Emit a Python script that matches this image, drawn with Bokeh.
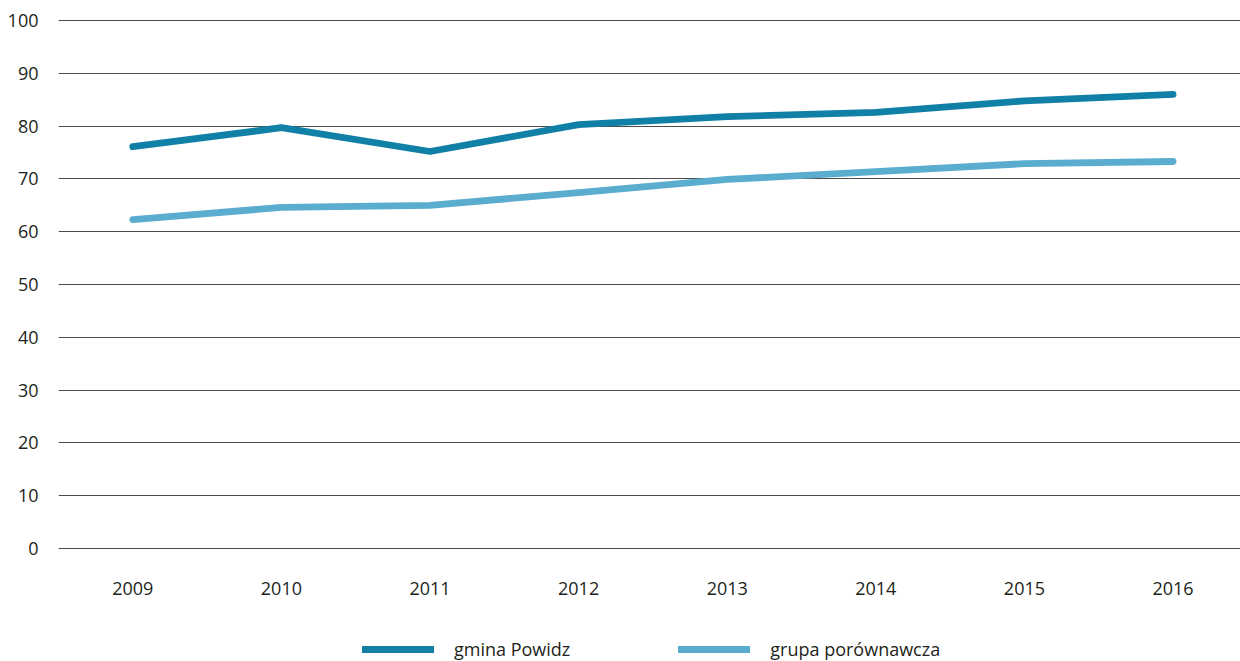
from bokeh.plotting import figure
from bokeh.models import Range1d, FixedTicker, Legend, LegendItem
from bokeh.embed import file_html
from bokeh.resources import INLINE

years = ["2009", "2010", "2011", "2012", "2013", "2014", "2015", "2016"]
gmina_powidz = [76.1, 79.7, 75.2, 80.3, 81.8, 82.6, 84.8, 86.0]
grupa_porownawcza = [62.3, 64.6, 65.0, 67.4, 69.9, 71.4, 72.9, 73.3]
y_ticks = [0, 10, 20, 30, 40, 50, 60, 70, 80, 90, 100]

x = list(range(len(years)))

# frame spans the whole lower area; the legend sits inside it below the axis labels
p = figure(width=1240, height=661, output_backend="svg", toolbar_location=None,
           x_range=Range1d(-0.5, 7.454), y_range=Range1d(-21.4, 100.2),
           min_border_left=58, min_border_right=0, min_border_top=19,
           min_border_bottom=0)
p.outline_line_color = None
p.background_fill_color = "white"
p.border_fill_color = "white"

font = "Open Sans"
for ax in (p.xaxis[0], p.yaxis[0]):
    ax.axis_line_color = None
    ax.major_tick_line_color = None
    ax.minor_tick_line_color = None
    ax.major_label_text_font = font
    ax.major_label_text_font_size = "18px"
    ax.major_label_text_color = "#231f20"

p.xaxis.ticker = FixedTicker(ticks=x)
p.xaxis.major_label_overrides = {i: y for i, y in enumerate(years)}
p.xaxis.fixed_location = -0.2
p.xaxis.major_label_standoff = 26
p.yaxis.ticker = FixedTicker(ticks=y_ticks)
p.yaxis.major_label_standoff = 14

p.xgrid.grid_line_color = None
p.ygrid.grid_line_color = "#4d4d4d"
p.ygrid.grid_line_width = 1.1
p.ygrid.ticker = FixedTicker(ticks=y_ticks)

r1 = p.line(x, gmina_powidz, line_color="#1180a6", line_width=6.8, line_cap="round", line_join="round")
r2 = p.line(x, grupa_porownawcza, line_color="#5badcf", line_width=6.8, line_cap="round", line_join="round")

legend = Legend(items=[LegendItem(label="gmina Powidz", renderers=[r1]),
                       LegendItem(label="grupa porównawcza", renderers=[r2])],
                orientation="horizontal", location=(304, 0),
                glyph_width=72, glyph_height=20, label_height=20, label_standoff=20, spacing=108,
                label_text_font=font, label_text_font_size="18px", label_text_color="#231f20",
                border_line_color=None, background_fill_alpha=0, margin=0, padding=0)
p.add_layout(legend)

open("out.html", "w").write(file_html(p, INLINE))
